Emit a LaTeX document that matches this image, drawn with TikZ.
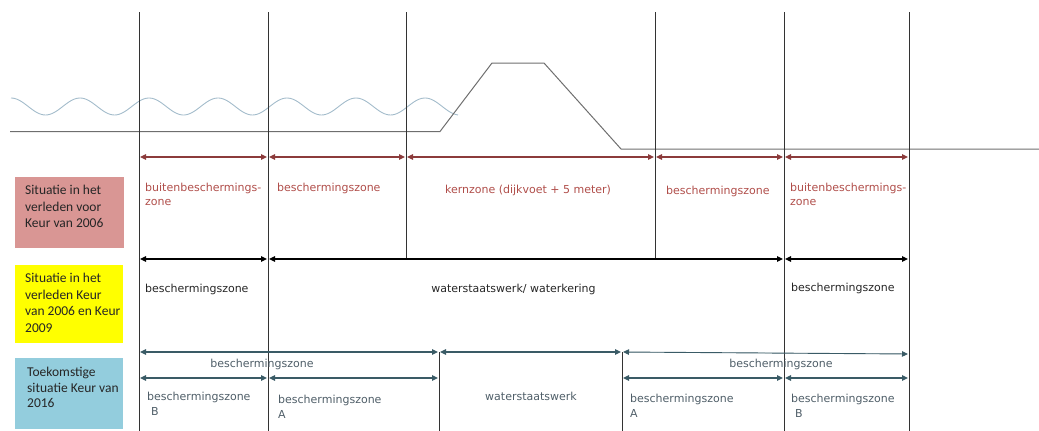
\documentclass[tikz,border=0pt]{standalone}
\usepackage{fontspec}
\setmainfont{DejaVu Sans}
\newfontfamily\boxfont{Carlito}
\usetikzlibrary{arrows.meta}
\definecolor{zred}{HTML}{8C3B3B}
\definecolor{zredtxt}{HTML}{B04E4A}
\definecolor{zteal}{HTML}{3A5B66}
\definecolor{ztealtxt}{HTML}{4F5E68}
\definecolor{zblk}{HTML}{262626}
\definecolor{zwave}{HTML}{A3BCCB}
\definecolor{zground}{HTML}{6E6E6E}
\definecolor{boxred}{HTML}{D99694}
\definecolor{boxyellow}{HTML}{FFFF00}
\definecolor{boxblue}{HTML}{93CDDD}
\tikzset{
  vline/.style={draw=black!80, line width=0.8pt},
  tips/.style={{Triangle[length=6pt,width=5.5pt]}-{Triangle[length=6pt,width=5.5pt]}, shorten <=1pt, shorten >=1pt, line width=1.1pt},
  redarr/.style={tips, draw=zred, fill=zred},
  blkarr/.style={tips, draw=black, fill=black},
  tealarr/.style={tips, draw=zteal, fill=zteal},
  redlbl/.style={inner sep=0pt, text=zredtxt, font=\fontsize{11}{14}\selectfont, align=left},
  blklbl/.style={inner sep=0pt, text=zblk, font=\fontsize{11}{14}\selectfont, align=left},
  teallbl/.style={inner sep=0pt, text=ztealtxt, font=\fontsize{11}{15}\selectfont, align=left},
  legbox/.style={anchor=north west, inner sep=0pt, draw=none},
  legtxt/.style={anchor=north west, inner sep=0pt, text=zblk, align=left},
}
\begin{document}
\begin{tikzpicture}[x=1pt,y=-1pt]
\useasboundingbox (0,0) rectangle (1039,431);
% columns and rows
\coordinate (c1) at (139,0);
\coordinate (c2) at (268,0);
\coordinate (c3) at (406,0);
\coordinate (c4) at (655,0);
\coordinate (c5) at (784,0);
\coordinate (c6) at (909,0);
\coordinate (c7) at (439,0);
\coordinate (c8) at (622,0);
\coordinate (top) at (0,12);
\coordinate (bot) at (0,431);
\coordinate (rowR) at (0,157);
\coordinate (rowK) at (0,259);
\coordinate (rowT) at (0,352);
\coordinate (rowTb) at (0,354);
\coordinate (rowU) at (0,378);

% water and dike profile
\draw[zwave, line width=0.9pt] plot[domain=11:458, samples=220, smooth] (\x, {106.5-8.5*cos((\x-11)/69*360)});
\draw[zground, line width=1pt] (10,131.5) -- (440,131.5) -- (492,63) -- (544,63) -- (621,149) -- (1039,149);

% vertical lines
\draw[vline] (c1|-top) -- (c1|-bot);
\draw[vline] (c2|-top) -- (c2|-bot);
\draw[vline] (c3|-top) -- (c3|-rowK);
\draw[vline] (c4|-top) -- (c4|-rowK);
\draw[vline] (c5|-top) -- (c5|-bot);
\draw[vline] (c6|-top) -- (c6|-bot);
\draw[vline] (c7|-rowT) -- (c7|-bot);
\draw[vline] (c8|-rowT) -- (c8|-bot);

% legend boxes
\node[legbox, fill=boxred, minimum width=109pt, minimum height=71pt] (boxA) at (15,177) {};
\node[legtxt, font=\boxfont\fontsize{13.5}{16.5}\selectfont] (txtA) at (25,185) {Situatie in het\\verleden voor\\Keur van 2006};
\node[legbox, fill=boxyellow, minimum width=108pt, minimum height=78pt] (boxB) at (15,265) {};
\node[legtxt, font=\boxfont\fontsize{13.5}{16.7}\selectfont] (txtB) at (25,273) {Situatie in het\\verleden Keur\\van 2006 en Keur\\2009};
\node[legbox, fill=boxblue, minimum width=108pt, minimum height=71pt] (boxC) at (15,358) {};
\node[legtxt, font=\boxfont\fontsize{13.5}{15.5}\selectfont] (txtC) at (27,367) {Toekomstige\\situatie Keur van\\2016};

% red row (past, before 2006)
\draw[redarr] (c1|-rowR) -- (c2|-rowR);
\draw[redarr] (c2|-rowR) -- (c3|-rowR);
\draw[redarr] (c3|-rowR) -- (c4|-rowR);
\draw[redarr] (c4|-rowR) -- (c5|-rowR);
\draw[redarr] (c5|-rowR) -- (c6|-rowR);
\node[redlbl, anchor=north west] (r1) at (145,182.5) {buitenbeschermings-\\zone};
\node[redlbl, anchor=west] (r2) at (277,188) {beschermingszone};
\node[redlbl, anchor=center] (r3) at (528,190) {kernzone (dijkvoet + 5 meter)};
\node[redlbl, anchor=west] (r4) at (666,191) {beschermingszone};
\node[redlbl, anchor=north west] (r5) at (790,182.5) {buitenbeschermings-\\zone};

% black row (2006 / 2009)
\draw[blkarr] (c1|-rowK) -- (c2|-rowK);
\draw[blkarr] (c2|-rowK) -- (c5|-rowK);
\draw[blkarr] (c5|-rowK) -- (c6|-rowK);
\node[blklbl, anchor=west] (k1) at (145,289) {beschermingszone};
\node[blklbl, anchor=center] (k2) at (513.5,289) {waterstaatswerk/ waterkering};
\node[blklbl, anchor=west] (k3) at (791,288) {beschermingszone};

% teal rows (2016)
\draw[tealarr] (c1|-rowT) -- (c7|-rowT);
\draw[tealarr] (c7|-rowT) -- (c8|-rowT);
\draw[tealarr, line width=0.9pt] (c8|-rowT) -- (c6|-rowTb);
\draw[tealarr] (c1|-rowU) -- (c2|-rowU);
\draw[tealarr] (c2|-rowU) -- (c7|-rowU);
\draw[tealarr] (c8|-rowU) -- (c5|-rowU);
\draw[tealarr] (c5|-rowU) -- (c6|-rowU);
\node[teallbl, anchor=center] (t1) at (262,364) {beschermingszone};
\node[teallbl, anchor=center] (t2) at (781,364) {beschermingszone};
\node[teallbl, anchor=center] (t3) at (531,396) {waterstaatswerk};
\node[teallbl, anchor=north west] (t4) at (147,391.5) {beschermingszone\\\hspace*{4pt}B};
\node[teallbl, anchor=north west] (t5) at (278,394.5) {beschermingszone\\A};
\node[teallbl, anchor=north west] (t6) at (630,393.5) {beschermingszone\\A};
\node[teallbl, anchor=north west] (t7) at (791,393.5) {beschermingszone\\\hspace*{4pt}B};
\end{tikzpicture}
\end{document}
